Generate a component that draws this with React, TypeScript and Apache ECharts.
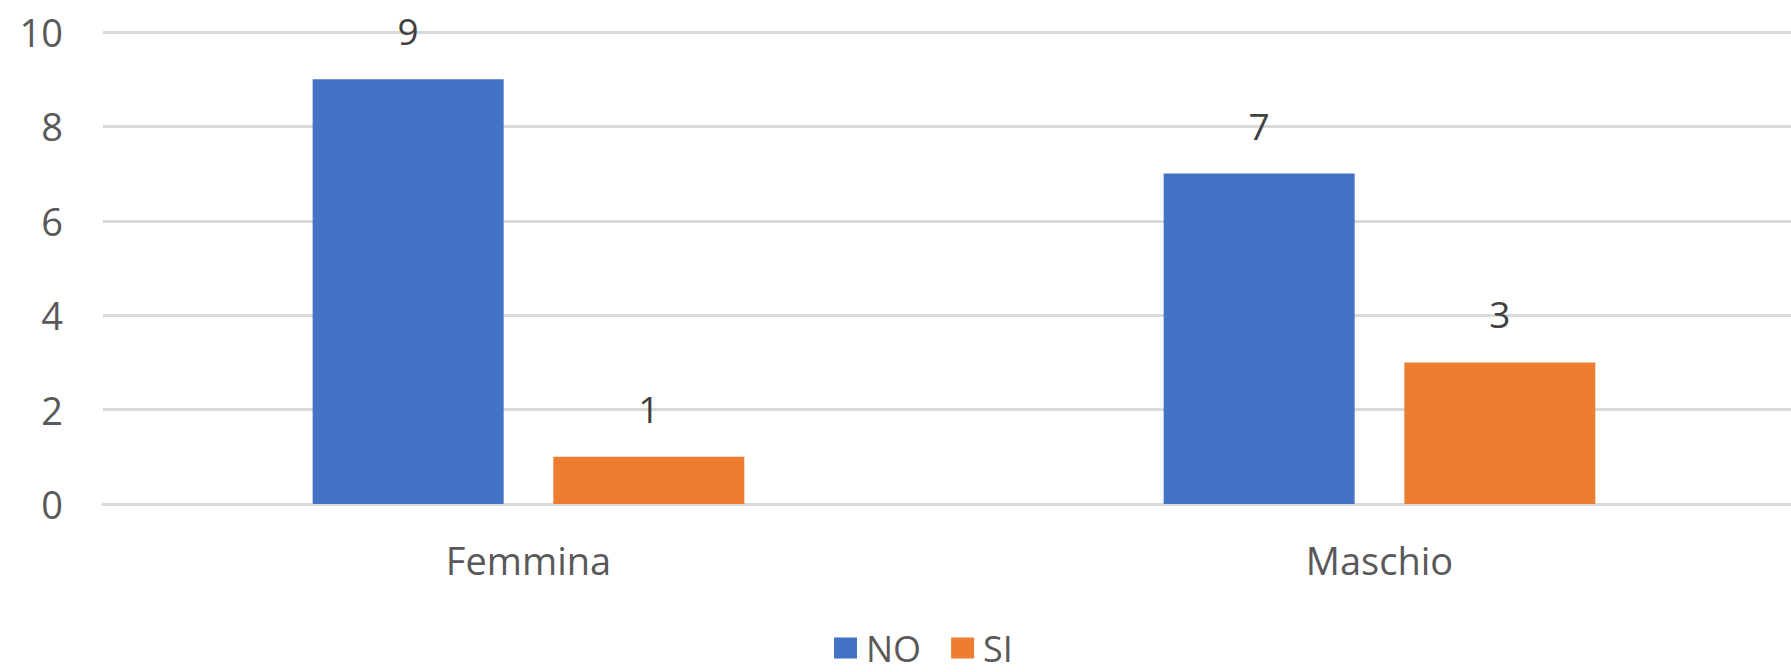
import React, { useEffect, useRef } from "react";
import * as echarts from "echarts";

const categories = ["Femmina", "Maschio"];
const seriesNames = ["NO", "SI"];
const noValues = [9, 7];
const siValues = [1, 3];
const colors = ["#4472C4", "#ED7D31"];

export default function App() {
  const ref = useRef<HTMLDivElement>(null);
  useEffect(() => {
    if (!ref.current) return;
    const chart = echarts.init(ref.current, null, { renderer: "svg" });
    const font = "'Open Sans', 'Noto Sans', sans-serif";
    const label = {
      show: true,
      position: "top",
      distance: 30,
      fontSize: 37,
      color: "#404040",
      fontFamily: font,
    };
    chart.setOption({
      animation: false,
      backgroundColor: "#ffffff",
      color: colors,
      textStyle: { fontFamily: font },
      grid: {
        left: 103,
        top: 32,
        width: 1702,
        height: 472,
        containLabel: false,
        outerBoundsMode: "none",
      },
      legend: {
        data: seriesNames,
        left: 834,
        top: 630,
        padding: 0,
        itemWidth: 23,
        itemHeight: 21,
        itemGap: 30,
        icon: "rect",
        textStyle: { fontSize: 36, lineHeight: 36, color: "#595959", fontFamily: font, padding: [0, 0, 0, 4] },
      },
      xAxis: {
        type: "category",
        data: categories,
        axisLine: { show: true, lineStyle: { color: "#D9D9D9", width: 3 } },
        axisTick: { show: false },
        axisLabel: { fontSize: 38, color: "#595959", margin: 37, fontFamily: font },
      },
      yAxis: {
        type: "value",
        min: 0,
        max: 10,
        interval: 2,
        axisLine: { show: false },
        axisTick: { show: false },
        splitLine: { lineStyle: { color: "#D9D9D9", width: 3 } },
        axisLabel: { fontSize: 38, color: "#595959", margin: 40, fontFamily: font },
      },
      series: [
        { name: seriesNames[0], type: "bar", data: noValues, barWidth: 191, barGap: "26%", label },
        { name: seriesNames[1], type: "bar", data: siValues, barWidth: 191, barGap: "26%", label },
      ],
    });
    return () => chart.dispose();
  }, []);
  return (
    <div
      ref={ref}
      style={{ position: "fixed", left: 0, top: 0, width: 1791, height: 672 }}
    />
  );
}
